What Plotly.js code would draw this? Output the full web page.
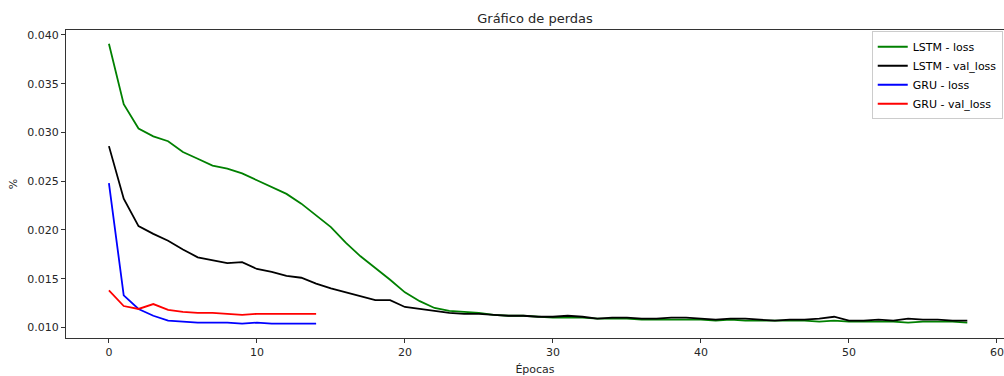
<!DOCTYPE html>
<html>
<head>
<meta charset="utf-8">
<script src="https://cdn.plot.ly/plotly-3.0.1.min.js"></script>
<style>html,body{margin:0;padding:0;background:#fff;}#chart{width:1004px;height:376px;}</style>
</head>
<body>
<div id="chart"></div>
<script>
const lstmLoss = [0.0391,0.0329,0.0304,0.0296,0.0291,0.0280,0.0273,0.0266,0.0263,0.0258,
  0.0251,0.0244,0.0237,0.0227,0.0215,0.0203,0.0187,0.0173,0.0161,0.0149,
  0.0136,0.0127,0.0120,0.0117,0.0116,0.0115,0.0113,0.0112,0.0112,0.0111,
  0.0110,0.0110,0.0110,0.0109,0.0109,0.0109,0.0108,0.0108,0.0108,0.0108,
  0.0108,0.0107,0.0108,0.0107,0.0107,0.0107,0.0107,0.0107,0.0106,0.0107,
  0.0106,0.0106,0.0106,0.0106,0.0105,0.0106,0.0106,0.0106,0.0105];
const lstmValLoss = [0.0286,0.0232,0.0204,0.0196,0.0189,0.0180,0.0172,0.0169,0.0166,0.0167,
  0.0160,0.0157,0.0153,0.0151,0.0145,0.0140,0.0136,0.0132,0.0128,0.0128,
  0.0121,0.0119,0.0117,0.0115,0.0114,0.0114,0.0113,0.0112,0.0112,0.0111,
  0.0111,0.0112,0.0111,0.0109,0.0110,0.0110,0.0109,0.0109,0.0110,0.0110,
  0.0109,0.0108,0.0109,0.0109,0.0108,0.0107,0.0108,0.0108,0.0109,0.0111,
  0.0107,0.0107,0.0108,0.0107,0.0109,0.0108,0.0108,0.0107,0.0107];
const gruLoss = [0.0248,0.0133,0.0119,0.0112,0.0107,0.0106,0.0105,0.0105,0.0105,0.0104,
  0.0105,0.0104,0.0104,0.0104,0.0104];
const gruValLoss = [0.0138,0.0122,0.0119,0.0124,0.0118,0.0116,0.0115,0.0115,0.0114,0.0113,
  0.0114,0.0114,0.0114,0.0114,0.0114];
const seriesNames = ["LSTM - loss","LSTM - val_loss","GRU - loss","GRU - val_loss"];
const seriesColors = ["#008000","#000000","#0000ff","#ff0000"];
const titleText = "Gráfico de perdas";
const xTitle = "Épocas";
const yTitle = "%";

const epochs = n => Array.from({length:n}, (_, i) => i);
const allSeries = [lstmLoss, lstmValLoss, gruLoss, gruValLoss];
const traces = allSeries.map((ys, k) => ({
  x: epochs(ys.length), y: ys, type: 'scatter', mode: 'lines',
  name: seriesNames[k], line: {color: seriesColors[k], width: 1.8}
}));

const FONT = 'DejaVu Sans';
const TXT = '#262626';
const axisCommon = {
  showgrid: false, zeroline: false, showline: true, linecolor: '#333', linewidth: 1,
  ticks: 'outside', ticklen: 4, tickcolor: '#333', tickwidth: 1, automargin: false,
  tickfont: {family: FONT, size: 11, color: TXT}
};

const layout = {
  width: 1004, height: 376,
  margin: {l: 66, r: 0, t: 30, b: 38},
  paper_bgcolor: '#fff', plot_bgcolor: '#fff',
  font: {family: FONT, size: 11, color: TXT},
  title: {text: titleText, font: {family: FONT, size: 13, color: TXT},
          x: 0.5, xref: 'paper', y: 0.952, yanchor: 'middle', automargin: false},
  xaxis: Object.assign({}, axisCommon, {
    range: [-2.9, 60.48], tick0: 0, dtick: 10, mirror: true,
    title: {text: xTitle, font: {family: FONT, size: 11, color: TXT}, standoff: 8}
  }),
  yaxis: Object.assign({}, axisCommon, {
    range: [0.00892, 0.04051], tick0: 0, dtick: 0.005, tickformat: '.3f',
    title: {text: yTitle, font: {family: FONT, size: 11, color: TXT}, standoff: 7}
  }),
  showlegend: true,
  legend: {
    x: 0.859, y: 0.996, xanchor: 'left', yanchor: 'top',
    bgcolor: 'rgba(255,255,255,0.8)', bordercolor: '#cccccc', borderwidth: 1,
    font: {family: FONT, size: 11, color: '#000'},
    tracegroupgap: 0, itemwidth: 30
  }
};

Plotly.newPlot('chart', traces, layout, {displayModeBar: false, staticPlot: true});
</script>
</body>
</html>
